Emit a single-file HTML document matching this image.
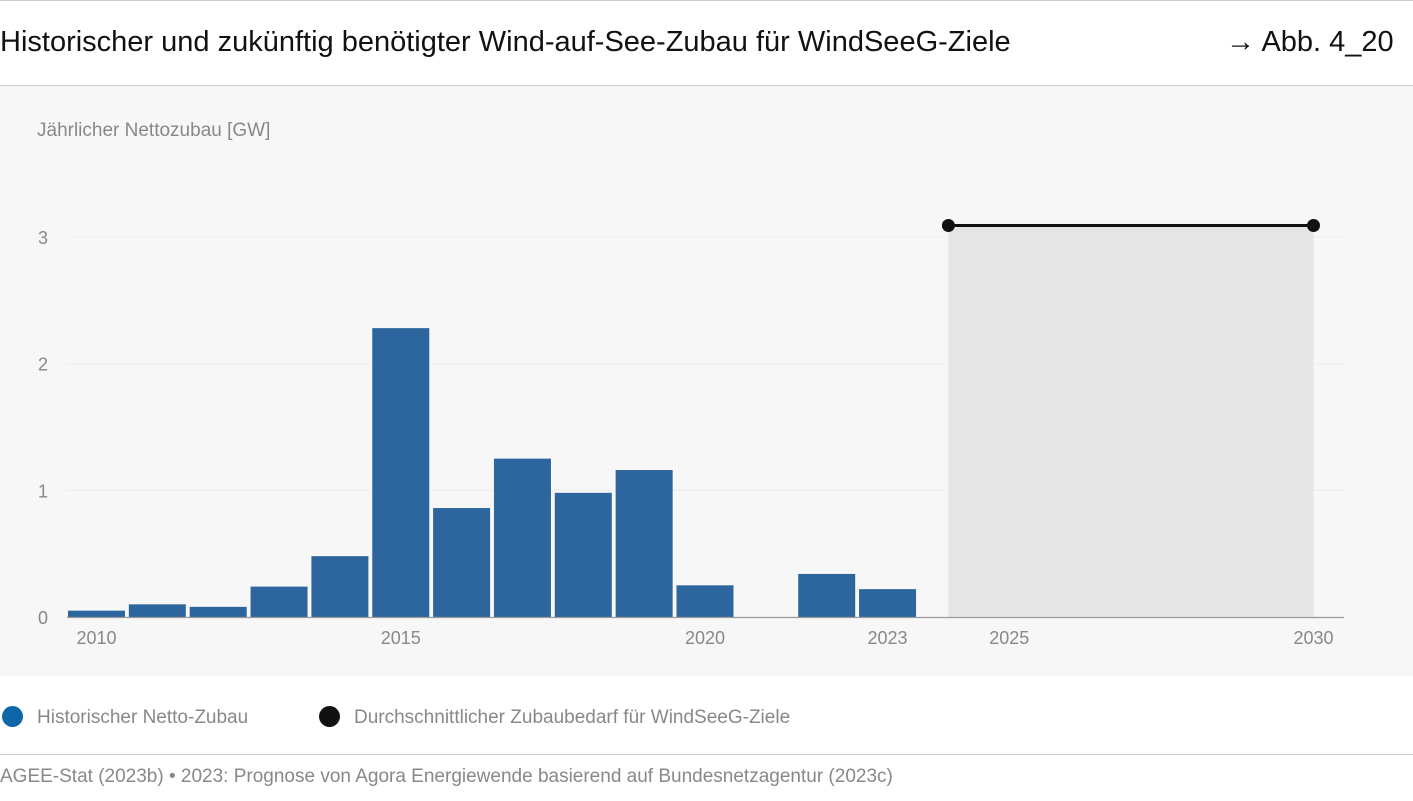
<!DOCTYPE html>
<html><head><meta charset="utf-8"><style>
body{margin:0;width:1413px;height:801px;background:#fff;font-family:"Liberation Sans","DejaVu Sans",sans-serif;overflow:hidden;position:relative}
.t{position:absolute;white-space:nowrap}
</style></head><body>
<div style="position:absolute;left:0;top:0;width:1413px;height:1px;background:#ccc"></div>
<div class="t" style="left:0;top:26px;font-size:29px;color:#111">Historischer und zukünftig benötigter Wind-auf-See-Zubau für WindSeeG-Ziele</div>
<div class="t" style="left:1226px;top:26px;font-size:29px;color:#111">→ Abb. 4_20</div>
<div style="position:absolute;left:0;top:85px;width:1413px;height:1px;background:#ccc"></div>
<div style="position:absolute;left:0;top:86px;width:1413px;height:590px;background:#f7f7f7"></div>
<svg id="chart" width="1413" height="801" style="position:absolute;left:0;top:0"></svg>
<div class="t" style="left:2px;top:706px;font-size:19px;color:#888"><span style="display:inline-block;width:21px;height:21px;border-radius:50%;background:#0d66a8;vertical-align:-4px;margin-right:14px"></span>Historischer Netto-Zubau</div>
<div class="t" style="left:319px;top:706px;font-size:19px;color:#888"><span style="display:inline-block;width:21px;height:21px;border-radius:50%;background:#111;vertical-align:-4px;margin-right:14px"></span>Durchschnittlicher Zubaubedarf für WindSeeG-Ziele</div>
<div style="position:absolute;left:0;top:754px;width:1413px;height:1px;background:#ccc"></div>
<div class="t" style="left:0;top:766px;font-size:19px;color:#888">AGEE-Stat (2023b) • 2023: Prognose von Agora Energiewende basierend auf Bundesnetzagentur (2023c)</div>
<script>
const years=[2010,2011,2012,2013,2014,2015,2016,2017,2018,2019,2020,2021,2022,2023];
const values=[0.05,0.1,0.08,0.24,0.48,2.28,0.86,1.25,0.98,1.16,0.25,0,0.34,0.22];
const targetYears=[2024,2030];
const targetValue=[3.09];
const yTicks=[0,1,2,3];
const xTickLabels=[2010,2015,2020,2023,2025,2030];
const NS="http://www.w3.org/2000/svg";
const svg=document.getElementById('chart');
const x=yr=>96.5+(yr-2010)*60.85;
const y=v=>617-v*126.7;
function mk(t,a){const e=document.createElementNS(NS,t);for(const k in a)e.setAttribute(k,a[k]);svg.appendChild(e);return e;}
let yl=mk('text',{x:37,y:136,'font-size':19,fill:'#888','font-family':'Liberation Sans, sans-serif'});
yl.textContent='Jährlicher Nettozubau [GW]';


yTicks.forEach(v=>{
 if(v>0){const g=mk('line',{x1:67,x2:1344,y1:y(v),y2:y(v),stroke:'#eeeeee','stroke-width':1});
 
 }
 const t=mk('text',{x:48,y:y(v)+7,'font-size':18,fill:'#888','text-anchor':'end','font-family':'Liberation Sans, sans-serif'});
 t.textContent=v;
 
 
});
const area=mk('rect',{x:x(targetYears[0]),y:y(targetValue[0]),width:x(targetYears[1])-x(targetYears[0]),height:y(0)-y(targetValue[0]),fill:'#e5e5e5'});


years.forEach((yr,i)=>{
 if(values[i]<=0)return;
 const r=mk('rect',{x:x(yr)-28.5,y:y(values[i]),width:57,height:y(0)-y(values[i]),fill:'#2d669e'});
 
 
});
const ax=mk('line',{x1:67,x2:1344,y1:617.5,y2:617.5,stroke:'#999','stroke-width':1.2});


xTickLabels.forEach(yr=>{
 const t=mk('text',{x:x(yr),y:644,'font-size':18,fill:'#888','text-anchor':'middle','font-family':'Liberation Sans, sans-serif'});
 t.textContent=yr;
 
 
});
const ln=mk('line',{x1:x(targetYears[0]),x2:x(targetYears[1]),y1:y(targetValue[0]),y2:y(targetValue[0]),stroke:'#111','stroke-width':3});


targetYears.forEach(yr=>{
 const c=mk('circle',{cx:x(yr),cy:y(targetValue[0]),r:6.5,fill:'#111'});
 
 
});
</script>
</body></html>
